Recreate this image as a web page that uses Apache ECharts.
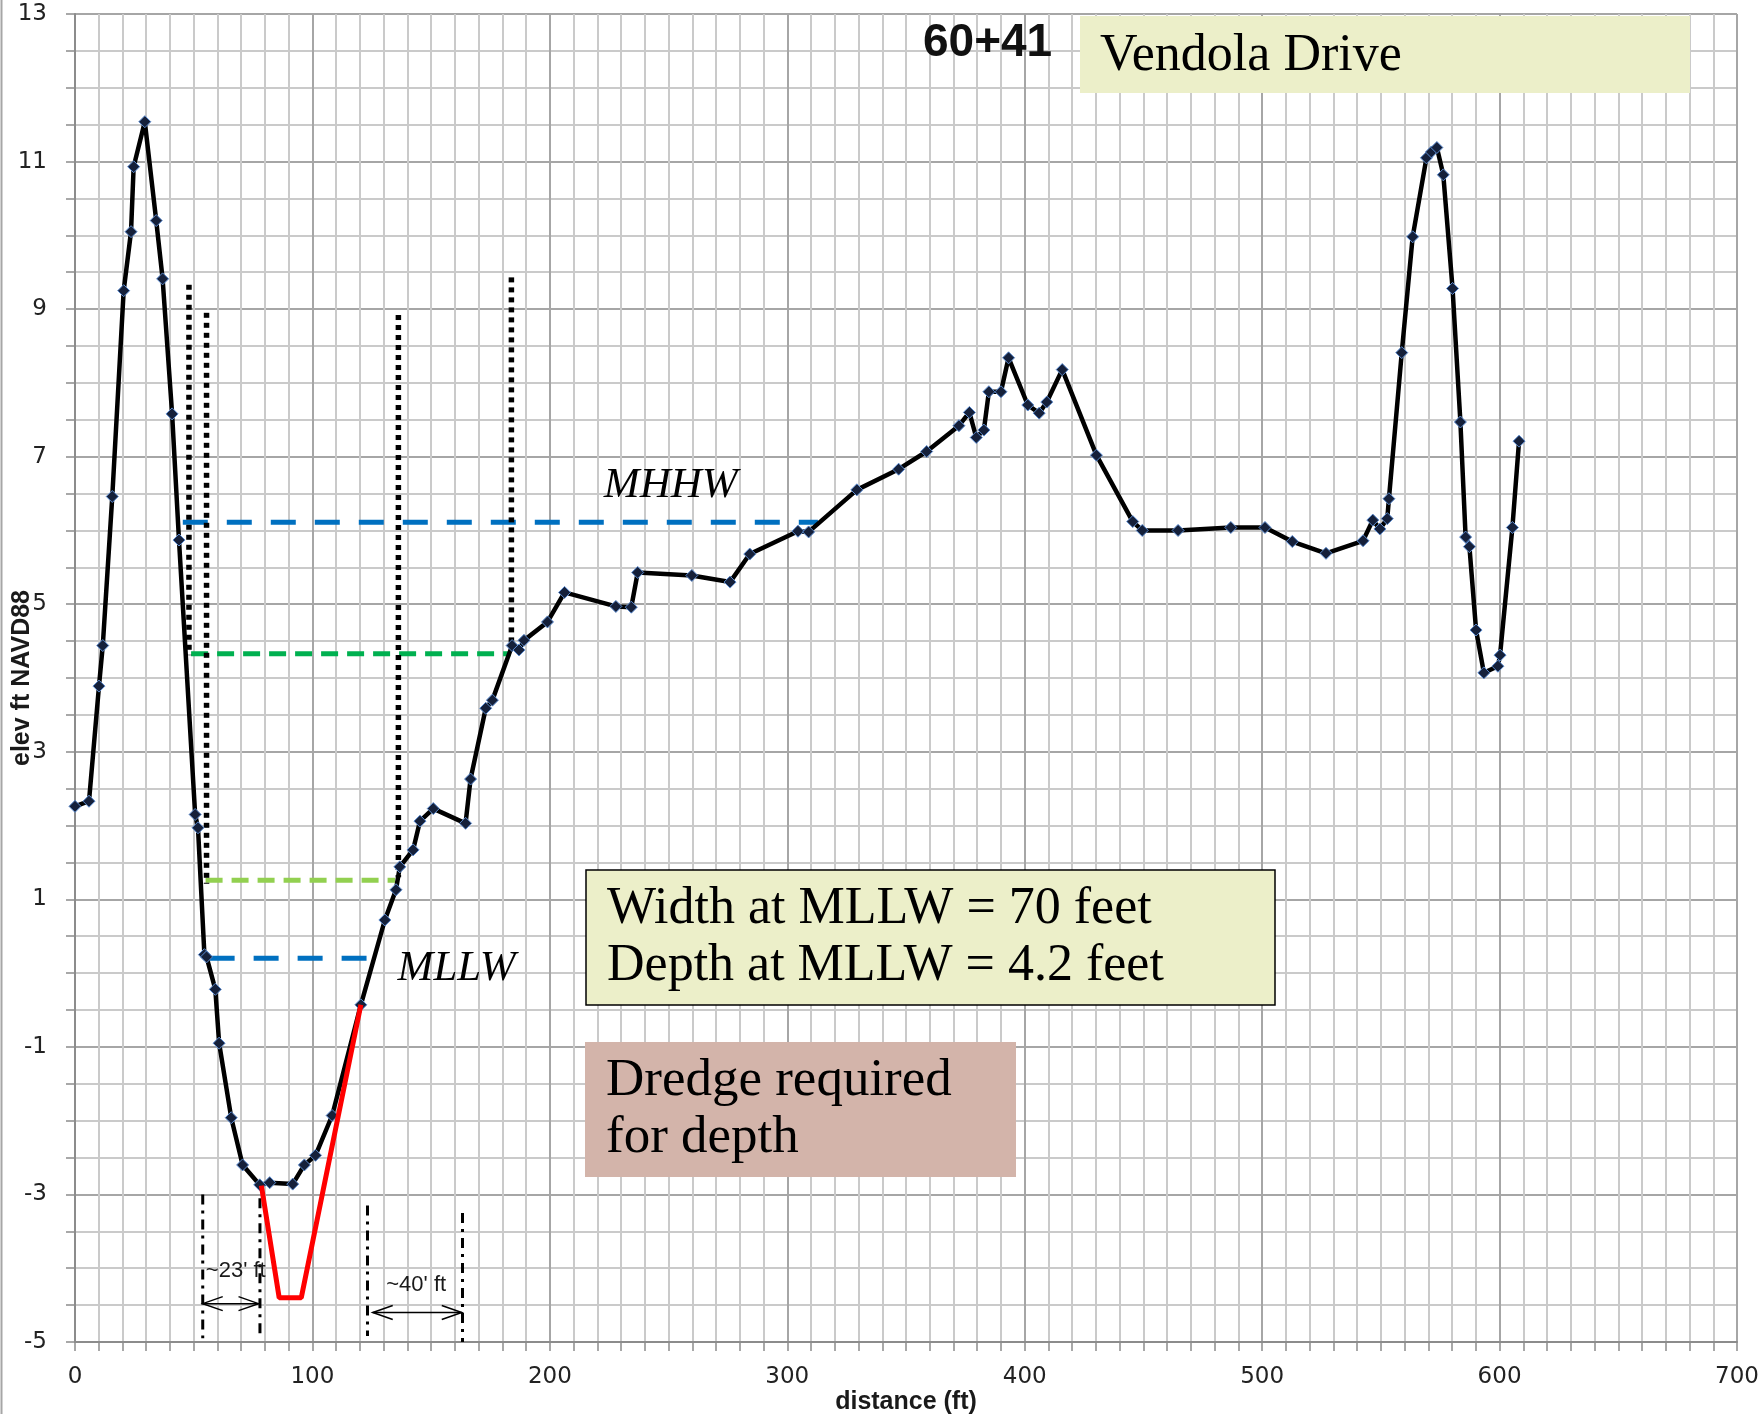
<!DOCTYPE html>
<html>
<head>
<meta charset="utf-8">
<title>60+41 Vendola Drive</title>
<script src="https://cdn.jsdelivr.net/npm/echarts@6/dist/echarts.min.js"></script>
<style>
  html, body { margin: 0; padding: 0; background: #fff; }
  #main { width: 1764px; height: 1414px; }
</style>
</head>
<body>
<div id="main"></div>
<script>
// surveyed cross-section (distance ft, elevation ft NAVD88)
var distance = [0, 5.9, 10.1, 11.7, 15.7, 20.5, 23.6, 24.7, 29.4, 34.2, 36.9, 40.9, 43.8, 50.6, 51.8, 54.5, 55.4, 59.1, 60.7, 65.8,
  70.6, 77.8, 82.0, 91.7, 96.6, 101.3, 108.3, 120.4, 130.5, 135.2, 136.8, 142.4, 145.3, 150.9, 164.5, 166.6, 173.0, 175.8, 184.1, 187.0,
  189.1, 199.0, 206.2, 227.8, 234.3, 237.0, 259.8, 275.9, 284.2, 304.5, 309.0, 329.3, 346.9, 358.7, 372.3, 376.7, 379.6, 382.8, 384.9, 390.0,
  393.2, 401.3, 406.1, 409.3, 415.8, 430.2, 445.5, 449.5, 464.6, 486.8, 501.2, 512.7, 526.9, 542.5, 546.6, 549.6, 552.7, 553.4, 558.8, 563.4,
  569.2, 571.3, 573.6, 576.3, 580.2, 583.5, 585.7, 587.3, 590.1, 593.4, 599.3, 600.2, 605.4, 608.2];
var elevation = [2.26, 2.33, 3.89, 4.44, 6.46, 9.25, 10.05, 10.93, 11.54, 10.20, 9.41, 7.58, 5.87, 2.15, 1.97, 0.25, 0.22, -0.22, -0.95, -1.96,
  -2.60, -2.87, -2.84, -2.86, -2.60, -2.47, -1.93, -0.43, 0.72, 1.13, 1.44, 1.67, 2.06, 2.23, 2.03, 2.63, 3.59, 3.70, 4.44, 4.38,
  4.51, 4.76, 5.16, 4.97, 4.96, 5.43, 5.39, 5.30, 5.68, 5.99, 5.98, 6.55, 6.83, 7.07, 7.42, 7.60, 7.26, 7.36, 7.88, 7.88,
  8.34, 7.70, 7.59, 7.74, 8.18, 7.02, 6.12, 6.00, 6.00, 6.04, 6.04, 5.85, 5.69, 5.86, 6.14, 6.02, 6.16, 6.43, 8.41, 9.98,
  11.05, 11.13, 11.19, 10.82, 9.28, 7.47, 5.91, 5.78, 4.65, 4.07, 4.16, 4.31, 6.04, 7.21];

// proposed dredge cut
var dredgeX = [78.5, 86.0, 95.3, 120.4];
var dredgeY = [-2.88, -4.40, -4.40, -0.43];

// water levels: [elevation, start, end]
var mhhw = [6.11, 45.4, 312.9];
var upperGreen = [4.33, 48.9, 183.5];
var lowerGreen = [1.26, 55.0, 134.8];
var mllw = [0.20, 56.7, 122.8];

// dotted verticals
var dottedX = [48.0, 55.4, 136.2, 183.8];
var dottedTop = [9.33, 8.95, 8.92, 9.43];
var dottedBottom = [4.31, 1.21, 1.30, 4.41];

// dash-dot verticals at the bottom
var dashDotX = [53.8, 77.9, 123.2, 163.2];
var dashDotTop = [-3.0, -3.05, -3.15, -3.25];
var dashDotBottom = [-4.95, -4.88, -4.92, -5.0];

// double arrows: [from, to, elevation]
var arrows = [[53.8, 77.3, -4.48], [125.4, 162.9, -4.60]];

var tideNames = ['MHHW', 'MLLW'];
var tideNameX = [250.9, 160.7];
var tideNameY = [6.60, 0.06];

var spanNotes = ["~23' ft", "~40' ft"];
var spanNoteX = [67.7, 143.7];
var spanNoteY = [-4.04, -4.22];

var xTicks = { min: 0, max: 700, step: 100 };
var yTicks = { min: -5, max: 13, step: 2 };

var myChart = echarts.init(document.getElementById('main'));

function pairs(xs, ys) {
  return xs.map(function (x, i) { return [x, ys[i]]; });
}

function levelSeries(lv, color, dash) {
  return {
    type: 'line', data: [[lv[1], lv[0]], [lv[2], lv[0]]],
    showSymbol: false, silent: true, z: 3,
    lineStyle: { color: color, width: 5, type: dash }
  };
}

var series = [];

series.push(levelSeries(mhhw, '#0070C0', [25, 19]));
series.push(levelSeries(upperGreen, '#00B050', [17, 9]));
series.push(levelSeries(lowerGreen, '#92D050', [17, 9]));
series.push(levelSeries(mllw, '#0070C0', [25, 19]));

dottedX.forEach(function (x, i) {
  series.push({
    type: 'line', data: [[x, dottedTop[i]], [x, dottedBottom[i]]],
    showSymbol: false, silent: true, z: 3,
    lineStyle: { color: '#000', width: 5.5, type: [5, 5] }
  });
});

dashDotX.forEach(function (x, i) {
  series.push({
    type: 'line', data: [[x, dashDotTop[i]], [x, dashDotBottom[i]]],
    showSymbol: false, silent: true, z: 3,
    lineStyle: { color: '#000', width: 3, type: [10, 6, 3, 6] }
  });
});

// profile
series.push({
  type: 'line',
  data: pairs(distance, elevation),
  symbol: 'diamond', symbolSize: 12, showAllSymbol: true,
  lineStyle: { color: '#000', width: 4.5 },
  itemStyle: { color: '#15203a', borderColor: '#5b8bd0', borderWidth: 1 },
  z: 5
});

// dredge template
series.push({
  type: 'line',
  data: pairs(dredgeX, dredgeY),
  showSymbol: false, silent: true,
  lineStyle: { color: '#FF0000', width: 5 },
  z: 6
});

// double-headed arrows
series.push({
  type: 'custom', silent: true, z: 4,
  data: arrows,
  renderItem: function (params, api) {
    var a = api.coord([api.value(0), api.value(2)]);
    var b = api.coord([api.value(1), api.value(2)]);
    var st = { stroke: '#000', lineWidth: 1.5, fill: null };
    return {
      type: 'group',
      children: [
        { type: 'line', shape: { x1: a[0], y1: a[1], x2: b[0], y2: b[1] }, style: st },
        { type: 'polyline', shape: { points: [[a[0] + 20, a[1] - 7], [a[0], a[1]], [a[0] + 20, a[1] + 7]] }, style: st },
        { type: 'polyline', shape: { points: [[b[0] - 20, b[1] - 7], [b[0], b[1]], [b[0] - 20, b[1] + 7]] }, style: st }
      ]
    };
  }
});

series.push({
  type: 'scatter', silent: true, z: 7,
  symbolSize: 1,
  itemStyle: { color: 'rgba(0,0,0,0)', opacity: 1 },
  data: tideNames.map(function (t, i) { return { value: [tideNameX[i], tideNameY[i]], name: t }; }),
  label: {
    show: true, position: 'inside', formatter: '{b}', opacity: 1,
    fontFamily: 'Liberation Serif', fontStyle: 'italic', fontSize: 43, color: '#000'
  }
});

series.push({
  type: 'scatter', silent: true, z: 7,
  symbolSize: 1,
  itemStyle: { color: 'rgba(0,0,0,0)', opacity: 1 },
  data: spanNotes.map(function (t, i) { return { value: [spanNoteX[i], spanNoteY[i]], name: t }; }),
  label: {
    show: true, position: 'inside', formatter: '{b}', opacity: 1,
    fontFamily: 'Liberation Sans', fontSize: 22, color: '#1a1a1a'
  }
});

var option = {
  animation: false,
  backgroundColor: '#fff',
  grid: { left: 75, right: 27, top: 14, bottom: 72, containLabel: false, outerBoundsMode: 'none' },
  xAxis: {
    type: 'value', min: xTicks.min, max: xTicks.max, interval: xTicks.step,
    name: 'distance (ft)', nameLocation: 'middle', nameGap: 48, nameMoveOverlap: false,
    nameTextStyle: { fontFamily: 'Liberation Sans', fontWeight: 'bold', fontSize: 25, color: '#1a1a1a' },
    axisLine: { show: true, onZero: false, lineStyle: { color: '#8c8c8c', width: 2 } },
    axisTick: { show: true, length: 9, lineStyle: { color: '#8c8c8c', width: 1.5 } },
    minorTick: { show: true, splitNumber: 10, length: 9, lineStyle: { color: '#8c8c8c', width: 1.5 } },
    axisLabel: { fontFamily: 'DejaVu Sans', fontSize: 23, color: '#222', margin: 24 },
    splitLine: { show: true, lineStyle: { color: '#a6a6a6', width: 2 } },
    minorSplitLine: { show: true, lineStyle: { color: '#cacaca', width: 2 } }
  },
  yAxis: {
    type: 'value', min: yTicks.min, max: yTicks.max, interval: yTicks.step,
    name: 'elev ft NAVD88', nameLocation: 'middle', nameGap: 40, nameRotate: 90, nameMoveOverlap: false,
    nameTextStyle: { fontFamily: 'Liberation Sans', fontWeight: 'bold', fontSize: 25, color: '#1a1a1a' },
    axisLine: { show: true, onZero: false, lineStyle: { color: '#8c8c8c', width: 2 } },
    axisTick: { show: true, length: 9, lineStyle: { color: '#8c8c8c', width: 1.5 } },
    minorTick: { show: true, splitNumber: 4, length: 9, lineStyle: { color: '#8c8c8c', width: 1.5 } },
    axisLabel: { fontFamily: 'DejaVu Sans', fontSize: 23, color: '#222', margin: 28 },
    splitLine: { show: true, lineStyle: { color: '#a6a6a6', width: 2 } },
    minorSplitLine: { show: true, lineStyle: { color: '#cacaca', width: 2 } }
  },
  graphic: [
    { type: 'line', shape: { x1: 1.5, y1: 0, x2: 1.5, y2: 1414 }, style: { stroke: '#a6a6a6', lineWidth: 2 }, z: 100 },
    // station label
    { type: 'text', x: 923, y: 43, z: 101,
      style: { text: '60+41', fontFamily: 'Liberation Sans', fontWeight: 'bold', fontSize: 46, fill: '#111', verticalAlign: 'middle' } },
    // street name box
    { type: 'rect', shape: { x: 1080, y: 16, width: 610, height: 77 }, style: { fill: '#ecefc9' }, z: 100 },
    { type: 'text', x: 1100, y: 56, z: 101,
      style: { text: 'Vendola Drive', fontFamily: 'Liberation Serif', fontSize: 52, fill: '#000', verticalAlign: 'middle' } },
    // width/depth box
    { type: 'rect', shape: { x: 586, y: 870, width: 689, height: 135 }, style: { fill: '#ecefc9', stroke: '#000', lineWidth: 1.5 }, z: 100 },
    { type: 'text', x: 607, y: 909, z: 101,
      style: { text: 'Width at MLLW = 70 feet', fontFamily: 'Liberation Serif', fontSize: 52, fill: '#000', verticalAlign: 'middle' } },
    { type: 'text', x: 607, y: 966, z: 101,
      style: { text: 'Depth at MLLW = 4.2 feet', fontFamily: 'Liberation Serif', fontSize: 52, fill: '#000', verticalAlign: 'middle' } },
    // dredge box
    { type: 'rect', shape: { x: 585, y: 1042, width: 431, height: 135 }, style: { fill: '#d3b4aa' }, z: 100 },
    { type: 'text', x: 606, y: 1081, z: 101,
      style: { text: 'Dredge required', fontFamily: 'Liberation Serif', fontSize: 53, fill: '#000', verticalAlign: 'middle' } },
    { type: 'text', x: 606, y: 1138, z: 101,
      style: { text: 'for depth', fontFamily: 'Liberation Serif', fontSize: 53, fill: '#000', verticalAlign: 'middle' } }
  ],
  series: series
};

myChart.setOption(option);
</script>
</body>
</html>
